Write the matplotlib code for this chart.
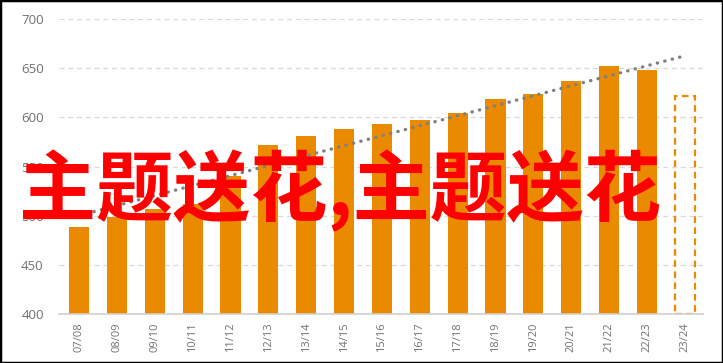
import numpy as np
import matplotlib
matplotlib.use('Agg')
from matplotlib import pyplot as plt
from matplotlib.patches import Rectangle

plt.rcParams['font.family'] = ['Open Sans', 'DejaVu Sans']

seasons = ['07/08', '08/09', '09/10', '10/11', '11/12', '12/13', '13/14', '14/15', '15/16',
           '16/17', '17/18', '18/19', '19/20', '20/21', '21/22', '22/23', '23/24']
values = [488, 499, 507, 512, 540, 572, 581, 588, 593, 597, 604, 619, 624, 637, 652, 648]
forecast = 622

bar_color = '#EA8A00'
x = np.arange(len(seasons))
xa = np.arange(len(values))

fig = plt.figure(figsize=(7.23, 3.63), dpi=100)
ax = fig.add_axes([59 / 723, 1 - 314 / 363, 644 / 723, 295 / 363])

ax.bar(xa, values, width=0.53, color=bar_color, zorder=2)
ax.bar(len(values), forecast - 400, bottom=400, width=0.53, facecolor='none',
       edgecolor=bar_color, linestyle=(0, (3, 2)), linewidth=1.6, zorder=2)

# linear trend over all seasons incl. the forecast one
k, b = np.polyfit(x, values + [forecast], 1)
ax.plot(x, k * x + b, color='#808080', linestyle=(0, (0.1, 2.2)), linewidth=2.4,
        dash_capstyle='round', zorder=3)

ax.set_xlim(-0.53, 16.48)
ax.set_ylim(400, 700)
ax.set_yticks(range(400, 701, 50))
ax.set_xticks(x)
ax.set_xticklabels(seasons, rotation=90)
ax.tick_params(axis='x', length=0, pad=6, labelsize=8, labelcolor='#707070')
ax.tick_params(axis='y', length=0, pad=11, labelsize=9.5, labelcolor='#707070')
ax.grid(axis='y', color='#d9d9d9', linestyle=(0, (4, 3)), linewidth=0.9, zorder=0)
ax.set_axisbelow(True)
for s in ['left', 'right', 'top']:
    ax.spines[s].set_visible(False)
ax.spines['bottom'].set_color('#d0d0d0')
ax.spines['bottom'].set_linewidth(1.2)

fig.text(340 / 723, 1 - 191 / 363, '主题送花,主题送花', color='#FF0000', fontsize=55.5,
         fontweight='bold', family=['Noto Sans CJK SC', 'DejaVu Sans'],
         ha='center', va='center', zorder=10)

fig.patches.append(Rectangle((0, 0), 1, 1, transform=fig.transFigure, fill=False,
                             edgecolor='black', linewidth=2.5, zorder=20))

fig.savefig('out.png', dpi=100)
